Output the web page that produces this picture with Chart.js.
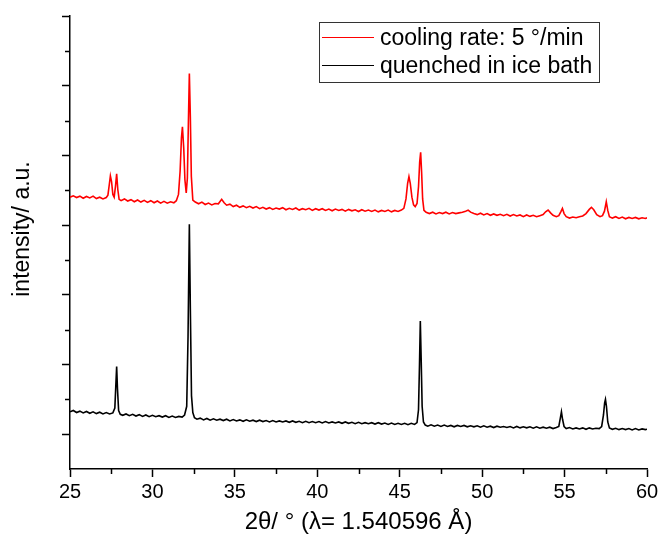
<!DOCTYPE html>
<html>
<head>
<meta charset="utf-8">
<script src="https://cdn.jsdelivr.net/npm/chart.js@4"></script>
<style>
  html, body { margin: 0; padding: 0; background: #fff; }
  #wrap { width: 658px; height: 540px; }
</style>
</head>
<body>
<div id="wrap"><canvas id="xrdCanvas" width="658" height="540"></canvas></div>
<script>
// scan: [2theta, intensity]
const coolingScan = [
  [25.0,7.80],[25.2,7.84],[25.4,7.79],[25.6,7.83],[25.8,7.77],[26.0,7.82],[26.2,7.78],[26.4,7.83],
  [26.6,7.76],[26.8,7.80],[27.0,7.75],[27.2,7.79],[27.3,7.86],[27.38,8.15],[27.45,8.41],[27.52,8.25],
  [27.6,7.88],[27.68,7.80],[27.76,8.12],[27.83,8.47],[27.9,8.02],[27.98,7.74],[28.1,7.70],[28.3,7.75],
  [28.5,7.69],[28.7,7.73],[28.9,7.67],[29.1,7.72],[29.3,7.66],[29.5,7.71],[29.7,7.65],[29.9,7.70],
  [30.1,7.64],[30.3,7.69],[30.5,7.63],[30.7,7.68],[30.9,7.63],[31.1,7.67],[31.3,7.64],[31.45,7.70],
  [31.58,7.88],[31.68,8.55],[31.76,9.50],[31.82,9.82],[31.9,9.20],[31.97,8.30],[32.05,7.92],[32.12,8.35],
  [32.18,9.90],[32.24,11.35],[32.3,10.10],[32.36,8.40],[32.45,7.72],[32.6,7.66],[32.8,7.61],[33.0,7.66],
  [33.2,7.59],[33.4,7.63],[33.6,7.58],[33.8,7.62],[34.0,7.61],[34.2,7.74],[34.35,7.64],[34.5,7.57],
  [34.7,7.60],[34.9,7.53],[35.1,7.57],[35.3,7.51],[35.5,7.55],[35.7,7.50],[35.9,7.54],[36.1,7.49],
  [36.3,7.53],[36.5,7.47],[36.7,7.51],[36.9,7.46],[37.1,7.50],[37.3,7.45],[37.5,7.49],[37.7,7.46],
  [37.9,7.50],[38.1,7.44],[38.3,7.48],[38.5,7.45],[38.7,7.49],[38.9,7.43],[39.1,7.47],[39.3,7.44],
  [39.5,7.48],[39.7,7.42],[39.9,7.47],[40.1,7.43],[40.3,7.47],[40.5,7.42],[40.7,7.46],[40.9,7.41],
  [41.1,7.46],[41.3,7.42],[41.5,7.45],[41.7,7.40],[41.9,7.45],[42.1,7.41],[42.3,7.44],[42.5,7.39],
  [42.7,7.44],[42.9,7.40],[43.1,7.43],[43.3,7.39],[43.5,7.43],[43.7,7.38],[43.9,7.42],[44.1,7.39],
  [44.3,7.43],[44.5,7.38],[44.7,7.42],[44.9,7.39],[45.1,7.43],[45.25,7.48],[45.38,7.75],[45.48,8.20],
  [45.56,8.39],[45.64,8.20],[45.74,7.80],[45.84,7.58],[45.94,7.53],[46.05,7.62],[46.14,8.10],[46.21,8.80],
  [46.27,9.09],[46.33,8.50],[46.39,7.75],[46.47,7.42],[46.6,7.37],[46.8,7.33],[47.0,7.37],[47.2,7.32],
  [47.4,7.36],[47.6,7.33],[47.8,7.37],[48.0,7.32],[48.2,7.36],[48.4,7.33],[48.6,7.35],[48.8,7.37],
  [49.0,7.40],[49.15,7.43],[49.3,7.37],[49.5,7.33],[49.7,7.30],[49.9,7.34],[50.1,7.29],[50.3,7.33],
  [50.5,7.28],[50.7,7.32],[50.9,7.28],[51.1,7.31],[51.3,7.27],[51.5,7.31],[51.7,7.26],[51.9,7.30],
  [52.1,7.26],[52.3,7.29],[52.5,7.24],[52.7,7.29],[52.9,7.25],[53.1,7.28],[53.3,7.24],[53.5,7.27],
  [53.7,7.30],[53.85,7.38],[54.0,7.43],[54.15,7.35],[54.3,7.28],[54.5,7.24],[54.65,7.27],[54.77,7.38],
  [54.87,7.48],[54.97,7.33],[55.1,7.24],[55.3,7.20],[55.5,7.23],[55.7,7.21],[55.9,7.24],[56.1,7.26],
  [56.3,7.33],[56.5,7.45],[56.63,7.51],[56.77,7.44],[56.95,7.30],[57.15,7.24],[57.3,7.27],[57.42,7.40],
  [57.53,7.67],[57.62,7.42],[57.72,7.24],[57.9,7.20],[58.1,7.24],[58.3,7.19],[58.5,7.23],[58.7,7.18],
  [58.9,7.22],[59.1,7.19],[59.3,7.22],[59.5,7.18],[59.7,7.21],[59.9,7.19],[60.0,7.21]
];

const quenchedScan = [
  [25.0,1.64],[25.2,1.68],[25.4,1.62],[25.6,1.66],[25.8,1.61],[26.0,1.65],[26.2,1.60],[26.4,1.64],
  [26.6,1.59],[26.8,1.63],[27.0,1.58],[27.2,1.62],[27.4,1.58],[27.6,1.61],[27.72,1.75],[27.78,2.40],
  [27.83,2.94],[27.88,2.30],[27.95,1.68],[28.05,1.57],[28.2,1.54],[28.4,1.58],[28.6,1.53],[28.8,1.57],
  [29.0,1.52],[29.2,1.56],[29.4,1.51],[29.6,1.55],[29.8,1.50],[30.0,1.54],[30.2,1.50],[30.4,1.53],
  [30.6,1.49],[30.8,1.53],[31.0,1.48],[31.2,1.52],[31.4,1.48],[31.6,1.51],[31.8,1.49],[31.95,1.55],
  [32.08,1.80],[32.16,3.80],[32.24,7.02],[32.3,4.60],[32.37,2.10],[32.45,1.62],[32.55,1.47],[32.7,1.43],
  [32.9,1.46],[33.1,1.41],[33.3,1.45],[33.5,1.40],[33.7,1.44],[33.9,1.40],[34.1,1.43],[34.3,1.39],
  [34.5,1.43],[34.7,1.38],[34.9,1.42],[35.1,1.38],[35.3,1.41],[35.5,1.37],[35.7,1.41],[35.9,1.37],
  [36.1,1.40],[36.3,1.36],[36.5,1.40],[36.7,1.36],[36.9,1.39],[37.1,1.35],[37.3,1.39],[37.5,1.35],
  [37.7,1.38],[37.9,1.35],[38.1,1.38],[38.3,1.34],[38.5,1.38],[38.7,1.34],[38.9,1.37],[39.1,1.33],
  [39.3,1.37],[39.5,1.33],[39.7,1.36],[39.9,1.33],[40.1,1.36],[40.3,1.32],[40.5,1.36],[40.7,1.32],
  [40.9,1.35],[41.1,1.32],[41.3,1.35],[41.5,1.31],[41.7,1.35],[41.9,1.31],[42.1,1.34],[42.3,1.30],
  [42.5,1.34],[42.7,1.30],[42.9,1.33],[43.1,1.30],[43.3,1.33],[43.5,1.29],[43.7,1.33],[43.9,1.29],
  [44.1,1.32],[44.3,1.28],[44.5,1.32],[44.7,1.28],[44.9,1.31],[45.1,1.28],[45.3,1.31],[45.5,1.27],
  [45.7,1.31],[45.9,1.28],[46.05,1.33],[46.14,1.70],[46.2,3.00],[46.25,4.25],[46.3,3.20],[46.36,1.80],
  [46.44,1.35],[46.55,1.26],[46.7,1.23],[46.9,1.27],[47.1,1.23],[47.3,1.26],[47.5,1.22],[47.7,1.26],
  [47.9,1.22],[48.1,1.25],[48.3,1.21],[48.5,1.25],[48.7,1.22],[48.9,1.25],[49.1,1.21],[49.3,1.24],
  [49.5,1.21],[49.7,1.24],[49.9,1.20],[50.1,1.24],[50.3,1.20],[50.5,1.23],[50.7,1.19],[50.9,1.23],
  [51.1,1.20],[51.3,1.22],[51.5,1.19],[51.7,1.22],[51.9,1.18],[52.1,1.22],[52.3,1.18],[52.5,1.21],
  [52.7,1.18],[52.9,1.21],[53.1,1.17],[53.3,1.21],[53.5,1.17],[53.7,1.20],[53.9,1.17],[54.1,1.20],
  [54.3,1.16],[54.5,1.19],[54.65,1.22],[54.74,1.45],[54.81,1.64],[54.88,1.42],[54.97,1.22],[55.1,1.16],
  [55.3,1.19],[55.5,1.15],[55.7,1.18],[55.9,1.15],[56.1,1.18],[56.3,1.14],[56.5,1.18],[56.7,1.15],
  [56.9,1.17],[57.1,1.16],[57.25,1.22],[57.36,1.55],[57.43,1.90],[57.48,2.00],[57.54,1.80],[57.62,1.35],
  [57.72,1.18],[57.9,1.14],[58.1,1.17],[58.3,1.13],[58.5,1.16],[58.7,1.13],[58.9,1.16],[59.1,1.12],
  [59.3,1.16],[59.5,1.12],[59.7,1.15],[59.9,1.13],[60.0,1.14]
];

const seriesLabels = ['cooling rate: 5 °/min', 'quenched in ice bath'];
const seriesColors = ['#ff0000', '#000000'];
const minorAngles = [27.5, 32.5, 37.5, 42.5, 47.5, 52.5, 57.5];
const minorLevels = [2, 4, 6, 8, 10, 12];
const xTitle = '2θ/ ° (λ= 1.540596 Å)';
const yTitle = 'intensity/ a.u.';

const fontFamily = "'Liberation Sans', Arial, sans-serif";

// minor ticks, rotated y title and the boxed legend
const extrasPlugin = {
  id: 'extras',
  afterDraw(chart) {
    const { ctx, chartArea, scales } = chart;
    const xs = scales.x, ys = scales.y;
    ctx.save();
    ctx.strokeStyle = '#000';
    ctx.lineWidth = 1.5;
    ctx.beginPath();
    minorAngles.forEach(v => {
      const px = Math.round(xs.getPixelForValue(v)) + 0.5;
      ctx.moveTo(px, chartArea.bottom);
      ctx.lineTo(px, chartArea.bottom + 5);
    });
    minorLevels.forEach(v => {
      const py = Math.round(ys.getPixelForValue(v)) + 0.5;
      ctx.moveTo(chartArea.left - 5, py);
      ctx.lineTo(chartArea.left, py);
    });
    ctx.stroke();

    // y title
    ctx.save();
    ctx.translate(23, 229);
    ctx.rotate(-Math.PI / 2);
    ctx.fillStyle = '#000';
    ctx.font = '23px ' + fontFamily;
    ctx.textAlign = 'center';
    ctx.textBaseline = 'middle';
    ctx.fillText(yTitle, 0, 0);
    ctx.restore();

    // legend
    ctx.lineWidth = 1;
    ctx.strokeStyle = '#333';
    ctx.strokeRect(319.5, 22.5, 280, 60);
    ctx.font = '23px ' + fontFamily;
    ctx.textBaseline = 'middle';
    ctx.fillStyle = '#000';
    chart.data.datasets.forEach((ds, i) => {
      const ly = 37.5 + i * 28;
      ctx.strokeStyle = ds.borderColor;
      ctx.beginPath();
      ctx.moveTo(322, ly);
      ctx.lineTo(374, ly);
      ctx.stroke();
      ctx.fillText(ds.label, 380, ly + 1);
    });
    ctx.restore();
  }
};

const toPoints = scan => scan.map(([x, y]) => ({ x, y }));

new Chart(document.getElementById('xrdCanvas'), {
  type: 'line',
  data: {
    datasets: [
      {
        label: seriesLabels[0],
        data: toPoints(coolingScan),
        borderColor: seriesColors[0],
        borderWidth: 1.6,
        pointRadius: 0,
        tension: 0
      },
      {
        label: seriesLabels[1],
        data: toPoints(quenchedScan),
        borderColor: seriesColors[1],
        borderWidth: 1.6,
        pointRadius: 0,
        tension: 0
      }
    ]
  },
  options: {
    responsive: false,
    animation: false,
    layout: { padding: { top: 16, right: 11, left: 0, bottom: 0 } },
    plugins: {
      legend: { display: false },
      tooltip: { enabled: false }
    },
    scales: {
      x: {
        type: 'linear',
        min: 25,
        max: 60,
        afterFit: scale => {
          scale.height = 71;
          scale.paddingLeft = 0;
          scale.paddingRight = 0;
        },
        ticks: {
          stepSize: 5,
          color: '#000',
          padding: 3,
          maxRotation: 0,
          font: { family: fontFamily, size: 20 }
        },
        grid: {
          drawOnChartArea: false,
          tickLength: 8,
          tickWidth: 1.5,
          tickColor: '#000'
        },
        border: { color: '#000', width: 1.5 },
        title: {
          display: true,
          text: xTitle,
          color: '#000',
          font: { family: fontFamily, size: 24 },
          padding: { top: 2, bottom: 3 }
        }
      },
      y: {
        type: 'linear',
        min: 0,
        max: 13,
        afterFit: scale => { scale.width = 70; },
        ticks: { stepSize: 1, display: false },
        grid: {
          drawOnChartArea: false,
          tickLength: 8,
          tickWidth: 1.5,
          tickColor: ctx => (ctx.tick && ctx.tick.value % 2 === 1) ? '#000' : 'rgba(0,0,0,0)'
        },
        border: { color: '#000', width: 1.5 }
      }
    }
  },
  plugins: [extrasPlugin]
});
</script>
</body>
</html>
